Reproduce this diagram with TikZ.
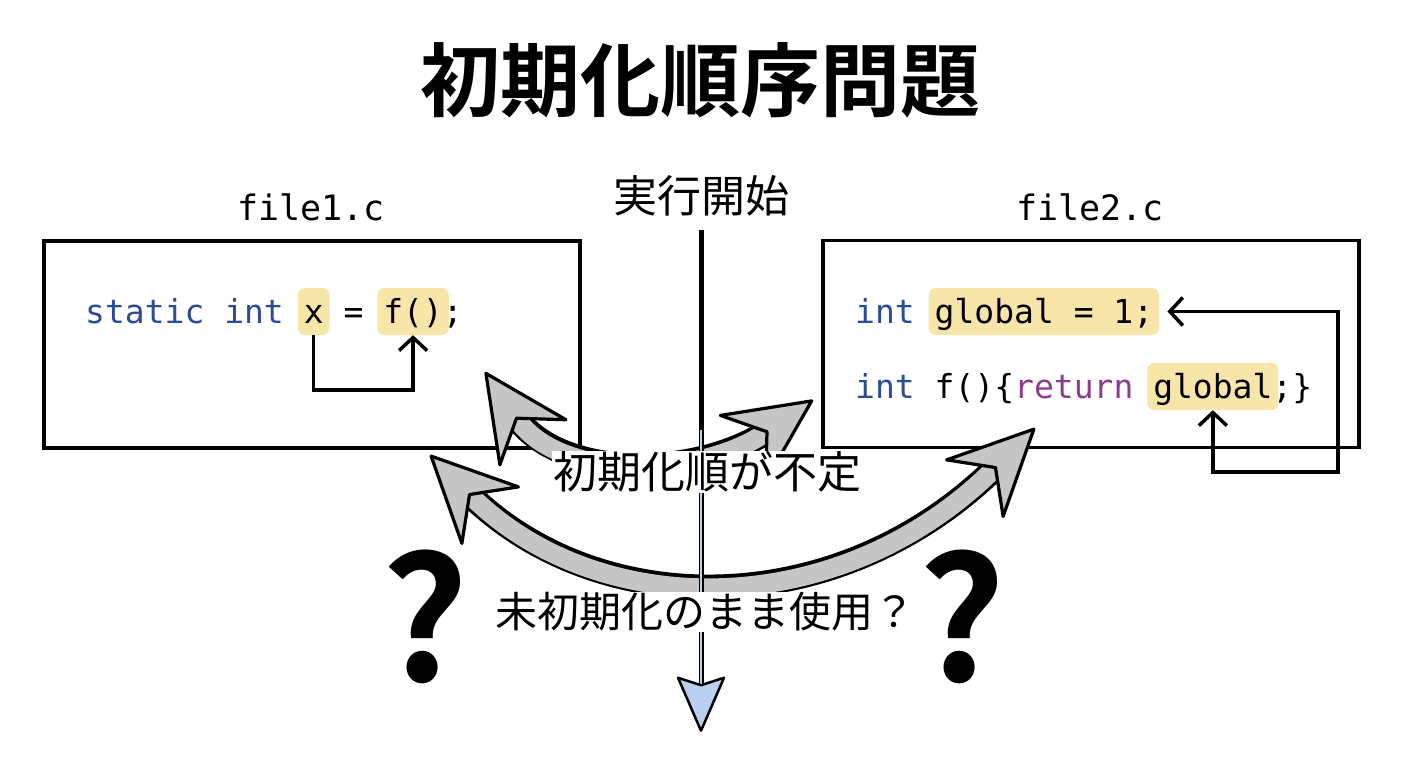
\documentclass[tikz,border=0pt]{standalone}
\usepackage{fontspec}
\setmainfont{Noto Sans CJK JP}[BoldFont={* Bold}]
\newfontfamily\codefont{DejaVu Sans Mono}
\usetikzlibrary{arrows.meta}

\definecolor{kwblue}{HTML}{2B4C96}
\definecolor{retpurple}{HTML}{8E3B8E}
\definecolor{hlyellow}{HTML}{F8E5AA}
\definecolor{arrowgray}{HTML}{C6C6C6}
\definecolor{tlblue}{HTML}{B9D0F0}

\def\cw{19.87}

\tikzset{
  codebox/.style={draw=black,line width=3.2pt,minimum width=536pt,minimum height=207pt},
  code/.style={font=\codefont\fontsize{33}{40}\selectfont,inner sep=0pt,anchor=base west},
  hl/.style={code,fill=hlyellow,rounded corners=7pt,inner xsep=6pt,inner ysep=4pt,
    text height=31pt,text depth=8pt,xshift=-6pt},
  fname/.style={font=\codefont\fontsize{35}{40}\selectfont},
  link/.style={draw=black,line width=3.5pt},
  barb/.style={>={Straight Barb[length=13pt,width=28pt]}},
  gband/.style={line width=25pt,draw=black,shorten <=52pt,shorten >=52pt},
  gtip/.style={line width=19pt,draw=arrowgray,
    >={Stealth[length=92pt,width=88pt,inset=32pt,fill=arrowgray,color=black,line width=3.2pt,round]},<->},
  halo/.style={fill=white,inner sep=1pt},
  qmark/.style={font=\bfseries\fontsize{170}{170}\selectfont,inner sep=0pt}
}

\begin{document}
\begin{tikzpicture}[x=1pt,y=-1pt]
\useasboundingbox (0,0) rectangle (1408,768);

\node[font=\bfseries\fontsize{80}{90}\selectfont] (title) at (700,80) {初期化順序問題};
\node[fname] (file1) at (311,207) {file1.c};
\node[fname] (file2) at (1090,207) {file2.c};
\node[font=\fontsize{44}{50}\selectfont] (start) at (701,196) {実行開始};

\node[codebox] (box1) at (312,344.5) {};
\node[codebox] (box2) at (1091,344) {};

\node[code,text=kwblue] (s1) at (85,323) {static int};
\node[hl] (xvar) at ({85+11*\cw},323) {x};
\node[code] (eq1) at ({85+13*\cw},323) {=};
\node[hl] (fcall) at ({85+15*\cw},323) {f()};
\node[code] (semi1) at ({85+18*\cw},323) {;};

\node[code,text=kwblue] (int1) at (855,323) {int};
\node[hl] (g1) at ({855+4*\cw},323) {global = 1;};
\node[code,text=kwblue] (int2) at (855,398) {int};
\node[code] (fdef) at ({855+4*\cw},398) {f()\{};
\node[code,text=retpurple] (ret) at ({855+8*\cw},398) {return};
\node[hl] (g2) at ({855+15*\cw},398) {global};
\node[code] (close2) at ({855+21*\cw},398) {;\}};

\draw[link,barb,->] (xvar.south) -- ++(0,55) -| (fcall.south);
\coordinate (loop) at (1338,472);
\draw[link,barb,<->] (g2.south) |- (loop) |- ([xshift=8pt]g1.east);

\coordinate (smallL) at (485,372);
\coordinate (smallR) at (813,400);
\coordinate (bigL) at (430,455);
\coordinate (bigR) at (1035,428);
\draw[gband] (smallL) .. controls (560,482) and (700,478) .. (smallR);
\draw[gtip] (smallL) .. controls (560,482) and (700,478) .. (smallR);
\draw[gband] (bigL) .. controls (598,623) and (840,623) .. (bigR);
\draw[gtip] (bigL) .. controls (598,623) and (840,623) .. (bigR);

\coordinate (tlmid) at (701,430);
\coordinate (tlend) at (701,732);
\draw[line width=5pt,black,shorten <=10pt,shorten >=30pt] (start.south) -- (tlend);
\draw[line width=2.2pt,tlblue,-{Stealth[length=58pt,width=50pt,inset=8pt,fill=tlblue,color=black,line width=2.5pt,round]}] (tlmid) -- (tlend);

\node[halo,font=\fontsize{44}{50}\selectfont] (unsure) at (707,472) {初期化順が不定};
\node[halo,font=\fontsize{42}{48}\selectfont] (uninit) at (705,612) {未初期化のまま使用？};

\node[qmark] (q1) at (425,617) {?};
\node[qmark] (q2) at (962,617) {?};
\end{tikzpicture}
\end{document}
